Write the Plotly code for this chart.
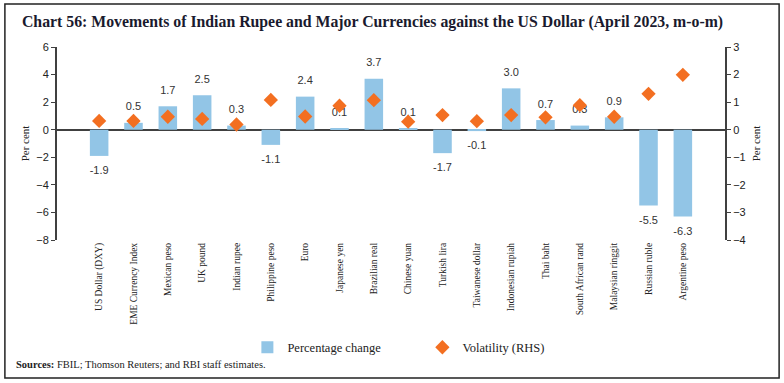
import plotly.graph_objects as go

categories = ["US Dollar (DXY)", "EME Currency Index", "Mexican peso", "UK pound", "Indian rupee",
              "Philippine peso", "Euro", "Japanese yen", "Brazilian real", "Chinese yuan",
              "Turkish lira", "Taiwanese dollar", "Indonesian rupiah", "Thai baht",
              "South African rand", "Malaysian ringgit", "Russian ruble", "Argentine peso"]
pct_change = [-1.9, 0.5, 1.7, 2.5, 0.3, -1.1, 2.4, 0.1, 3.7, 0.1, -1.7, -0.1, 3.0, 0.7, 0.3, 0.9, -5.5, -6.3]
volatility = [0.32, 0.32, 0.47, 0.39, 0.19, 1.08, 0.48, 0.87, 1.07, 0.29, 0.53, 0.31, 0.53, 0.45, 0.89, 0.47, 1.30, 1.99]
left_ticks = [-8, -6, -4, -2, 0, 2, 4, 6]
right_ticks = [-4, -3, -2, -1, 0, 1, 2, 3]

serif = "Liberation Serif"
sans = "Liberation Sans"

fig = go.Figure()
fig.add_trace(go.Bar(
    x=categories, y=pct_change, name="Percentage change",
    marker=dict(color="#92c5e6", line=dict(width=0)),
))
# value labels above positive / below negative bars
fig.add_trace(go.Scatter(
    x=categories, y=pct_change, mode="markers+text", showlegend=False, hoverinfo="skip",
    marker=dict(size=14, opacity=0),
    text=[f"{v:.1f}" for v in pct_change],
    textposition=["top center" if v >= 0 else "bottom center" for v in pct_change],
    textfont=dict(family=sans, size=11, color="#333333"), cliponaxis=False,
))
fig.add_trace(go.Scatter(
    x=categories, y=volatility, name="Volatility (RHS)", mode="markers", yaxis="y2",
    marker=dict(symbol="diamond", size=11, color="#f36f21"),
))

fig.update_layout(
    width=784, height=383,
    margin=dict(l=57, r=59, t=47, b=143),
    paper_bgcolor="white", plot_bgcolor="white",
    bargap=0.46,
    showlegend=True,
    legend=dict(orientation="h", x=0.285, xanchor="left", y=-0.48, yanchor="top",
                font=dict(family=serif, size=12.5, color="#222222"),
                itemwidth=30, entrywidth=130, bgcolor="rgba(0,0,0,0)"),
    xaxis=dict(tickangle=-90, tickfont=dict(family=serif, size=9.5, color="#222222"),
               showline=False, ticks="", showgrid=False),
    yaxis=dict(range=[-8, 6], tickvals=left_ticks, showgrid=False, zeroline=True,
               zerolinecolor="#404040", zerolinewidth=1.5,
               showline=True, linecolor="#404040", linewidth=2, ticks="outside", ticklen=4,
               tickcolor="#404040", tickfont=dict(family=sans, size=11, color="#222222"),
               title=dict(text="Per cent", font=dict(family=serif, size=11, color="#222222"), standoff=4)),
    yaxis2=dict(range=[-4, 3], tickvals=right_ticks, overlaying="y", side="right", showgrid=False,
                zeroline=False, showline=True, linecolor="#404040", linewidth=2, ticks="outside",
                ticklen=4, tickcolor="#404040", tickfont=dict(family=sans, size=11, color="#222222"),
                title=dict(text="Per cent", font=dict(family=serif, size=11, color="#222222"), standoff=8)),
    title=dict(text="<b>Chart 56: Movements of Indian Rupee and Major Currencies against the US Dollar (April 2023, m-o-m)</b>",
               font=dict(family=serif, size=15.8, color="#1a1a2e"), x=0.028, xanchor="left", y=0.945, yanchor="middle"),
    shapes=[dict(type="rect", xref="paper", yref="paper", x0=-0.078, x1=1.081, y0=-0.715, y1=1.223,
                 line=dict(color="#222222", width=1.5))],
    annotations=[dict(text="<b>Sources:</b> FBIL; Thomson Reuters; and RBI staff estimates.",
                      xref="paper", yref="paper", x=-0.064, y=-0.645, xanchor="left", yanchor="middle",
                      showarrow=False, font=dict(family=serif, size=10.5, color="#222222"))],
)

fig.write_html("out.html", config={"displayModeBar": False},
               post_script="document.body.style.margin='0px';")
